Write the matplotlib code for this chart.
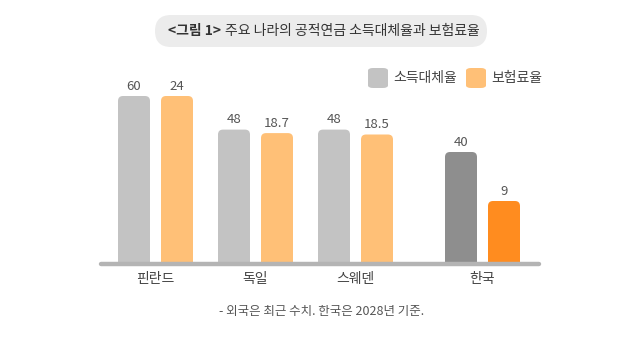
import matplotlib.pyplot as plt
from matplotlib.patches import FancyBboxPatch

plt.rcParams['font.family'] = ['Noto Sans CJK KR', 'DejaVu Sans']

# data
countries = ["핀란드", "독일", "스웨덴", "한국"]
replacement = [60, 48, 48, 40]       # 소득대체율
contribution = [24, 18.7, 18.5, 9]   # 보험료율
value_labels_r = ["60", "48", "48", "40"]
value_labels_c = ["24", "18.7", "18.5", "9"]

# layout
x_pos = [0, 1, 2, 3.27]
W, H = 640, 337
GRAY = "#c3c3c3"
ORANGE = "#ffc077"
GRAY_KR = "#8e8e8e"
ORANGE_KR = "#ff8c1f"
TEXT = "#555555"

fig = plt.figure(figsize=(W / 100, H / 100), dpi=100, facecolor="white")


def fx(px):
    return px / W


def fy(py):
    return 1 - py / H


base_px, top_px = 264, 60
ax = fig.add_axes([fx(100), fy(base_px), fx(440), (base_px - top_px) / H])
ax2 = ax.twinx()
for a in (ax, ax2):
    a.axis("off")
ax.set_xlim(-0.555, 3.845)
ax.set_ylim(0, 60 * (base_px - top_px) / 168)
ax2.set_ylim(0, 24 * (base_px - top_px) / 168)


def rounded_bars(a, xs, vals, colors, radius_px=5):
    bars = a.bar(xs, vals, width=0.32, color=colors)
    t = a.transData
    (x0, y0), (x1, y1) = t.transform([(0, 0), (1, 1)])
    px_per_x, px_per_y = x1 - x0, y1 - y0
    r = radius_px / px_per_x
    aspect = px_per_x / px_per_y
    for b, c in zip(bars, colors):
        b.set_visible(False)
        extra = 2 * radius_px / px_per_y
        p = FancyBboxPatch((b.get_x(), -extra), b.get_width(), b.get_height() + extra,
                           boxstyle=f"round,pad=0,rounding_size={r}",
                           mutation_aspect=aspect, fc=c, ec="none", zorder=2)
        a.add_patch(p)
    return bars


off = 0.215
rounded_bars(ax, [x - off for x in x_pos], replacement, [GRAY] * 3 + [GRAY_KR])
rounded_bars(ax2, [x + off for x in x_pos], contribution, [ORANGE] * 3 + [ORANGE_KR])

for x, v, s in zip(x_pos, replacement, value_labels_r):
    ax.annotate(s, (x - off, v), xytext=(0, 2.5), textcoords="offset points",
                ha="center", va="bottom", fontsize=9.5, color=TEXT)
for x, v, s in zip(x_pos, contribution, value_labels_c):
    ax2.annotate(s, (x + off, v), xytext=(0, 2.5), textcoords="offset points",
                 ha="center", va="bottom", fontsize=9.5, color=TEXT)

# baseline
ax2.plot([-0.555 + 0.01, 3.845 - 0.01], [0, 0], color="#b4b4b4", lw=3.2,
         solid_capstyle="round", zorder=5, clip_on=False)

# category labels
for x, c in zip(x_pos, countries):
    ax.text(x, -0.075, c, transform=ax.get_xaxis_transform(), ha="center", va="center",
            fontsize=10, color="#444444")

# legend
for px, col, lab in [(368, GRAY, "소득대체율"), (466, ORANGE, "보험료율")]:
    fig.patches.append(FancyBboxPatch((fx(px), fy(88)), fx(20), 20 / H,
                                      boxstyle="round,pad=0,rounding_size=0.008",
                                      transform=fig.transFigure, fc=col, ec="none"))
    fig.text(fx(px + 25), fy(78), lab, ha="left", va="center", fontsize=10, color="#444444")

# title pill
fig.patches.append(FancyBboxPatch((fx(155), fy(47)), fx(332), 32 / H,
                                  boxstyle="round,pad=0,rounding_size=0.025",
                                  mutation_aspect=W / H, zorder=-1,
                                  transform=fig.transFigure, fc="#ececec", ec="none"))
t1 = fig.text(fx(168), fy(31), "<그림 1>", ha="left", va="center", fontsize=10,
              fontweight="bold", color="#333333")
ax.annotate("주요 나라의 공적연금 소득대체율과 보험료율", xy=(1, 0.5), xycoords=t1,
            xytext=(3, 0), textcoords="offset points", ha="left", va="center",
            fontsize=10, color="#333333", annotation_clip=False, zorder=10)

# footnote
fig.text(fx(322), fy(311), "- 외국은 최근 수치. 한국은 2028년 기준.", ha="center", va="center",
         fontsize=9, color=TEXT)

fig.savefig("out.png", dpi=100, facecolor="white")
